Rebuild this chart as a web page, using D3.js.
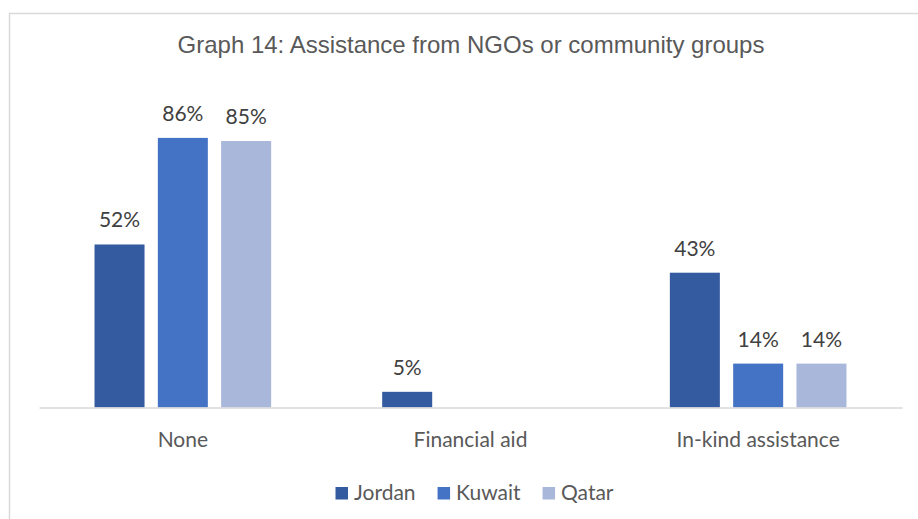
<!DOCTYPE html>
<html>
<head>
<meta charset="utf-8">
<script src="https://cdn.jsdelivr.net/npm/d3@7"></script>
<style>
  html, body { margin: 0; padding: 0; background: #ffffff; }
  svg { display: block; }
</style>
</head>
<body>
<svg id="chart" width="918" height="519"></svg>
<script>
// Chart data
const title = "Graph 14: Assistance from NGOs or community groups";
const categories = ["None", "Financial aid", "In-kind assistance"];
const seriesNames = ["Jordan", "Kuwait", "Qatar"];
const jordan = [0.52, 0.05, 0.43];
const kuwait = [0.86, 0, 0.14];
const qatar  = [0.85, 0, 0.14];
const seriesColors = ["#345b9f", "#4472c4", "#a9b7db"];

const seriesValues = [jordan, kuwait, qatar];
const rows = [];
categories.forEach((c, ci) => {
  seriesNames.forEach((s, si) => {
    rows.push({ category: c, series: s, value: seriesValues[si][ci], color: seriesColors[si] });
  });
});

const svg = d3.select("#chart");
const W = 918, H = 519;
const plot = { left: 39, right: 902, top: 94, bottom: 407.5 };

svg.append("rect").attr("width", W).attr("height", H).attr("fill", "#ffffff");

// chart frame
svg.append("rect")
  .attr("x", 9.5).attr("y", 13.5)
  .attr("width", W + 20).attr("height", H + 20)
  .attr("fill", "none")
  .attr("stroke", "#d9d9d9")
  .attr("stroke-width", 1.5);

// title
svg.append("text")
  .attr("x", 471).attr("y", 52.5)
  .attr("text-anchor", "middle")
  .attr("font-family", "'Liberation Sans', Arial, sans-serif")
  .attr("font-size", 24)
  .attr("fill", "#595959")
  .text(title);

const x0 = d3.scaleBand().domain(categories).range([plot.left, plot.right]).padding(0);
const bw = x0.bandwidth();
const x1 = d3.scaleBand().domain(seriesNames)
  .range([bw * 0.193, bw * 0.807])
  .paddingInner(0.21).paddingOuter(0);
const y = d3.scaleLinear().domain([0, 1]).range([plot.bottom, plot.top]);

const fontLabel = "Lato, 'Open Sans', sans-serif";

// bars
const shown = rows.filter(d => d.value > 0);
svg.append("g").selectAll("rect")
  .data(shown)
  .join("rect")
  .attr("x", d => x0(d.category) + x1(d.series))
  .attr("y", d => y(d.value))
  .attr("width", x1.bandwidth())
  .attr("height", d => y(0) - y(d.value))
  .attr("fill", d => d.color);

// value labels
svg.append("g").selectAll("text")
  .data(shown)
  .join("text")
  .attr("x", d => x0(d.category) + x1(d.series) + x1.bandwidth() / 2)
  .attr("y", d => y(d.value) - 17)
  .attr("text-anchor", "middle")
  .attr("font-family", fontLabel)
  .attr("font-size", 21)
  .attr("fill", "#404040")
  .text(d => Math.round(d.value * 100) + "%");

// category axis
const xAxis = svg.append("g")
  .attr("transform", `translate(0,${plot.bottom})`)
  .call(d3.axisBottom(x0).tickSize(0).tickPadding(0));
xAxis.select(".domain").attr("stroke", "#d9d9d9").attr("stroke-width", 1.5);
xAxis.selectAll("text")
  .attr("dy", null)
  .attr("y", 39)
  .attr("font-family", fontLabel)
  .attr("font-size", 21)
  .attr("fill", "#595959");

// legend
const legend = svg.append("g");
const items = legend.selectAll("g").data(seriesNames).join("g");
items.append("rect")
  .attr("width", 12.5).attr("height", 12.5)
  .attr("y", 487)
  .attr("fill", (d, i) => seriesColors[i]);
items.append("text")
  .attr("x", 18.5).attr("y", 499.5)
  .attr("font-family", fontLabel)
  .attr("font-size", 21)
  .attr("fill", "#595959")
  .text(d => d);
let cursor = 0;
const offsets = [];
items.each(function () {
  offsets.push(cursor);
  const w = d3.select(this).select("text").node().getComputedTextLength();
  cursor += 18.5 + w + 22;
});
const total = cursor - 22;
const startX = 474.5 - total / 2;
items.attr("transform", (d, i) => `translate(${startX + offsets[i]},0)`);
</script>
</body>
</html>
